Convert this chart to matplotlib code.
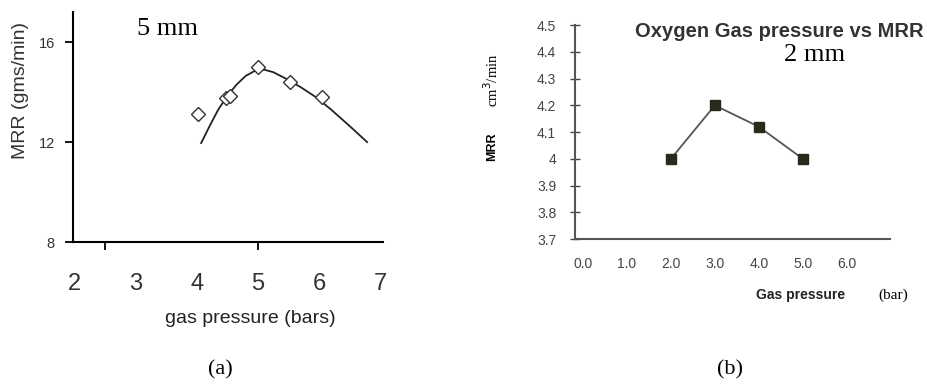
import matplotlib
matplotlib.use('Agg')
import matplotlib.pyplot as plt

plt.rcParams['font.family'] = ['Liberation Sans', 'DejaVu Sans']

p_a = [4.02, 4.48, 4.55, 5.0, 5.52, 6.05]
mrr_a = [13.14, 13.75, 13.85, 15.0, 14.4, 13.8]
fit_p = [4.07, 4.2, 4.35, 4.5, 4.65, 4.8, 4.95, 5.1, 5.25, 5.45, 5.7,
         5.95, 6.2, 6.5, 6.79]
fit_mrr = [11.96, 12.6, 13.3, 13.85, 14.3, 14.65, 14.85, 14.9, 14.8, 14.55,
           14.2, 13.8, 13.3, 12.65, 12.0]
xt_a = [2, 3, 4, 5, 6, 7]
yt_a = [8, 12, 16]

# (b) 2 mm oxygen gas pressure vs MRR
p_b = [2.0, 3.0, 4.0, 5.0]
mrr_b = [4.0, 4.2, 4.12, 4.0]
xt_b = [0, 1, 2, 3, 4, 5, 6]
yt_b = [3.7, 3.8, 3.9, 4.0, 4.1, 4.2, 4.3, 4.4, 4.5]
yl_b = ['3.7', '3.8', '3.9', '4', '4.1', '4.2', '4.3', '4.4', '4.5']

fig = plt.figure(figsize=(9.28, 3.85), dpi=100)

# ---- panel (a)
ax1 = fig.add_axes([0.0787, 0.3714, 0.334, 0.597])
ax1.plot(fit_p, fit_mrr, '-', color='#222222', lw=1.3)
ax1.plot(p_a, mrr_a, 'D', mfc='white', mec='#333333', ms=7, mew=1.0)
ax1.set_xlim(1.97, 7.05)
ax1.set_ylim(8, 17.2)
ax1.xaxis.remove_overlapping_locs = False
ax1.set_xticks(xt_a)
ax1.set_xticklabels([str(v) for v in xt_a], fontsize=17, color='#333333')
ax1.tick_params(axis='x', length=0, pad=22)
ax1.set_xticks([2.5, 5.0], minor=True)
ax1.tick_params(axis='x', which='minor', length=6, width=1.3, direction='out')
ax1.set_yticks(yt_a)
ax1.set_yticklabels([str(v) for v in yt_a], fontsize=10.5, color='#333333')
ax1.tick_params(axis='y', length=6, width=1.3, direction='out', pad=7)
for s in ['top', 'right']:
    ax1.spines[s].set_visible(False)
for s in ['left', 'bottom']:
    ax1.spines[s].set_linewidth(1.5)
fig.text(0.022, 0.766, 'MRR (gms/min)', fontsize=14, rotation=90,
         ha='center', va='center', color='#333333')
fig.text(0.27, 0.174, 'gas pressure (bars)', fontsize=14,
         ha='center', va='center', color='#222222')
fig.text(0.181, 0.925, '5 mm', fontsize=19, family='Liberation Serif',
         ha='center', va='center')

# ---- panel (b)
ax2 = fig.add_axes([0.6196, 0.379, 0.3394, 0.5558])
ax2.plot(p_b, mrr_b, '-', color='#555555', lw=1.3)
ax2.plot(p_b, mrr_b, 's', color='#2a2a1c', ms=6.5)
ax2.set_xlim(-0.18, 6.98)
ax2.set_ylim(3.7, 4.5)
ax2.set_xticks(xt_b)
ax2.set_xticklabels(['%.1f' % v for v in xt_b], fontsize=10, color='#444444')
ax2.tick_params(axis='x', length=0, pad=13)
ax2.set_yticks(yt_b)
ax2.set_yticklabels(yl_b, fontsize=10, color='#444444')
ax2.tick_params(axis='y', length=7, width=1.0, direction='inout', pad=10,
                color='#444444')
for s in ['top', 'right']:
    ax2.spines[s].set_visible(False)
for s in ['left', 'bottom']:
    ax2.spines[s].set_linewidth(1.5)
    ax2.spines[s].set_color('#555555')

fig.text(0.84, 0.919, 'Oxygen Gas pressure vs MRR', fontsize=14.5,
         fontweight='bold', ha='center', va='center', color='#333333')
fig.text(0.878, 0.857, '2 mm', fontsize=19, family='Liberation Serif',
         ha='center', va='center')
fig.text(0.863, 0.234, 'Gas pressure', fontsize=10, fontweight='bold',
         ha='center', va='center', color='#222222')
fig.text(0.963, 0.234, '(bar)', fontsize=11, family='Liberation Serif',
         ha='center', va='center')
fig.text(0.530, 0.618, 'MRR', fontsize=9, fontweight='bold', rotation=90,
         ha='center', va='center')
fig.text(0.530, 0.792, 'cm$^3$/min', fontsize=10.5, family='Liberation Serif',
         rotation=90, ha='center', va='center')

fig.text(0.237, 0.04, '(a)', fontsize=16, family='Liberation Serif',
         ha='center', va='center')
fig.text(0.787, 0.04, '(b)', fontsize=16, family='Liberation Serif',
         ha='center', va='center')

fig.savefig('out.png', dpi=100)
